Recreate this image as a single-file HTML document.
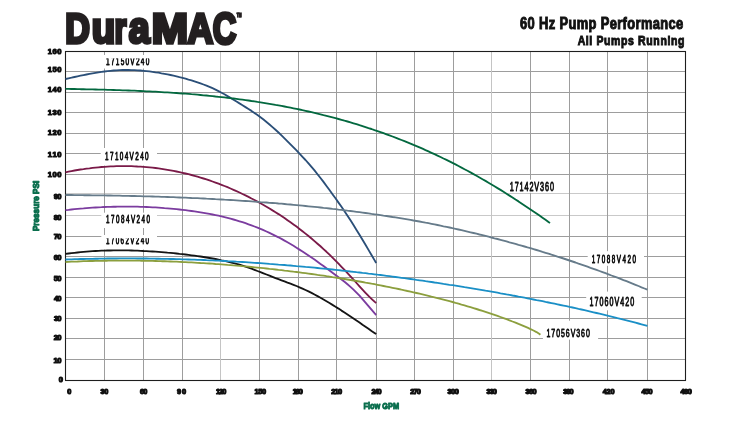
<!DOCTYPE html><html><head><meta charset="utf-8"><title>DuraMAC 60 Hz Pump Performance</title><style>html,body{margin:0;padding:0;background:#fff;}body{width:746px;height:422px;overflow:hidden;}svg{display:block;}text{font-family:"Liberation Sans", "DejaVu Sans", sans-serif;font-kerning:none;}</style></head><body>
<svg width="746" height="422" viewBox="0 0 746 422">
<rect width="746" height="422" fill="#fff"/>
<g stroke-width="1"><line x1="66" y1="71.5" x2="685" y2="71.5" stroke="#9d9d9d"/><line x1="66" y1="92.5" x2="685" y2="92.5" stroke="#9d9d9d"/><line x1="66" y1="112.5" x2="685" y2="112.5" stroke="#9d9d9d"/><line x1="66" y1="133.5" x2="685" y2="133.5" stroke="#9d9d9d"/><line x1="66" y1="153.5" x2="685" y2="153.5" stroke="#9d9d9d"/><line x1="66" y1="174.5" x2="685" y2="174.5" stroke="#9d9d9d"/><line x1="66" y1="193.5" x2="685" y2="193.5" stroke="#c9c9c9"/><line x1="66" y1="215.5" x2="685" y2="215.5" stroke="#c9c9c9"/><line x1="66" y1="236.5" x2="685" y2="236.5" stroke="#9d9d9d"/><line x1="66" y1="256.5" x2="685" y2="256.5" stroke="#9d9d9d"/><line x1="66" y1="277.5" x2="685" y2="277.5" stroke="#9d9d9d"/><line x1="66" y1="297.5" x2="685" y2="297.5" stroke="#9d9d9d"/><line x1="66" y1="318.5" x2="685" y2="318.5" stroke="#9d9d9d"/><line x1="66" y1="338.5" x2="685" y2="338.5" stroke="#9d9d9d"/><line x1="66" y1="359.5" x2="685" y2="359.5" stroke="#9d9d9d"/><line x1="104.5" y1="52" x2="104.5" y2="380" stroke="#9d9d9d"/><line x1="143.5" y1="52" x2="143.5" y2="380" stroke="#9d9d9d"/><line x1="182.5" y1="52" x2="182.5" y2="380" stroke="#9d9d9d"/><line x1="220.5" y1="52" x2="220.5" y2="380" stroke="#c4c4c4"/><line x1="259.5" y1="52" x2="259.5" y2="380" stroke="#9d9d9d"/><line x1="298.5" y1="52" x2="298.5" y2="380" stroke="#9d9d9d"/><line x1="336.5" y1="52" x2="336.5" y2="380" stroke="#9d9d9d"/><line x1="376.5" y1="52" x2="376.5" y2="380" stroke="#9d9d9d"/><line x1="414.5" y1="52" x2="414.5" y2="380" stroke="#9d9d9d"/><line x1="453.5" y1="52" x2="453.5" y2="380" stroke="#9d9d9d"/><line x1="491.5" y1="52" x2="491.5" y2="380" stroke="#c4c4c4"/><line x1="530.5" y1="52" x2="530.5" y2="380" stroke="#9d9d9d"/><line x1="569.5" y1="52" x2="569.5" y2="380" stroke="#9d9d9d"/><line x1="607.5" y1="52" x2="607.5" y2="380" stroke="#9d9d9d"/><line x1="647.5" y1="52" x2="647.5" y2="380" stroke="#9d9d9d"/></g>
<rect x="100.5" y="55.0" width="56.5" height="13.5" fill="#fff"/>
<rect x="100.7" y="148.0" width="56.3" height="17.5" fill="#fff"/>
<rect x="101.3" y="212.7" width="55.7" height="15.3" fill="#fff"/>
<rect x="101.3" y="235.0" width="55.7" height="14.5" fill="#fff"/>
<rect x="505.5" y="179.7" width="53.5" height="13.1" fill="#fff"/>
<rect x="587.7" y="251.2" width="56.3" height="14.6" fill="#fff"/>
<rect x="586.2" y="291.6" width="55.5" height="18.7" fill="#fff"/>
<rect x="542.9" y="320.7" width="55.2" height="18.9" fill="#fff"/>
<clipPath id="c0"><rect x="103.3" y="58.4" width="49.0" height="9.4"/></clipPath>
<g clip-path="url(#c0)">
<text transform="translate(106.06,64.72) scale(0.6000,1)" x="0.00 8.10 16.20 24.30 32.41 40.51 49.81 57.92 66.02" y="0" font-size="10.88" fill="#111" stroke="#111" stroke-width="0.85" stroke-linejoin="round">17150V240</text>
</g>
<text transform="translate(105.07,159.82) scale(0.6000,1)" x="0.00 8.18 16.37 24.55 32.73 40.92 50.28 58.46 66.64" y="0" font-size="10.60" fill="#111" stroke="#111" stroke-width="0.85" stroke-linejoin="round">17104V240</text>
<text transform="translate(106.08,222.52) scale(0.6000,1)" x="0.00 8.28 16.55 24.83 33.11 41.38 50.82 59.10 67.37" y="0" font-size="10.45" fill="#111" stroke="#111" stroke-width="0.85" stroke-linejoin="round">17084V240</text>
<clipPath id="c3"><rect x="103.3" y="238.3" width="48.7" height="9.2"/></clipPath>
<g clip-path="url(#c3)">
<text transform="translate(106.08,244.42) scale(0.6000,1)" x="0.00 8.07 16.14 24.21 32.27 40.34 49.57 57.64 65.71" y="0" font-size="10.45" fill="#111" stroke="#111" stroke-width="0.85" stroke-linejoin="round">17062V240</text>
</g>
<text transform="translate(509.71,190.62) scale(0.6000,1)" x="0.00 8.21 16.42 24.63 32.84 41.05 50.59 58.80 67.01" y="0" font-size="12.03" fill="#111" stroke="#111" stroke-width="0.85" stroke-linejoin="round">17142V360</text>
<text transform="translate(591.78,262.53) scale(0.6000,1)" x="0.00 8.32 16.64 24.96 33.27 41.59 51.07 59.39 67.71" y="0" font-size="10.45" fill="#111" stroke="#111" stroke-width="0.85" stroke-linejoin="round">17088V420</text>
<text transform="translate(589.51,305.82) scale(0.6000,1)" x="0.00 8.30 16.61 24.91 33.21 41.52 51.14 59.44 67.74" y="0" font-size="11.89" fill="#111" stroke="#111" stroke-width="0.85" stroke-linejoin="round">17060V420</text>
<text transform="translate(546.52,336.82) scale(0.6000,1)" x="0.00 8.05 16.10 24.16 32.21 40.26 49.60 57.65 65.70" y="0" font-size="11.60" fill="#111" stroke="#111" stroke-width="0.85" stroke-linejoin="round">17056V360</text>
<rect x="65.5" y="51.5" width="620" height="329" fill="none" stroke="#1e1e1e" stroke-width="1.1"/>
<path d="M65.5,79.0 L68.5,78.3 L71.5,77.7 L74.5,77.0 L77.5,76.3 L80.5,75.7 L83.5,75.1 L86.5,74.5 L89.5,73.9 L92.5,73.3 L95.5,72.8 L98.5,72.3 L101.5,71.9 L104.5,71.5 L107.5,71.1 L110.5,70.8 L113.5,70.5 L116.5,70.3 L119.5,70.1 L122.5,70.0 L125.5,70.0 L128.5,70.0 L131.5,70.1 L134.5,70.2 L137.5,70.3 L140.5,70.5 L143.5,70.8 L146.5,71.1 L149.5,71.4 L152.5,71.8 L155.5,72.3 L158.5,72.7 L161.5,73.3 L164.5,73.8 L167.5,74.4 L170.5,75.0 L173.5,75.7 L176.5,76.4 L179.5,77.2 L182.5,77.9 L185.5,78.7 L188.5,79.6 L191.5,80.4 L194.5,81.4 L197.5,82.4 L200.5,83.4 L203.5,84.5 L206.5,85.7 L209.5,86.9 L212.5,88.2 L215.5,89.6 L218.5,91.1 L221.5,92.7 L224.5,94.3 L227.5,96.1 L230.5,97.9 L233.5,99.7 L236.5,101.5 L239.5,103.4 L242.5,105.2 L245.5,107.1 L248.5,109.0 L251.5,110.9 L254.5,113.0 L257.5,115.1 L260.5,117.3 L263.5,119.6 L266.5,122.0 L269.5,124.5 L272.5,127.1 L275.5,129.7 L278.5,132.5 L281.5,135.4 L284.5,138.3 L287.5,141.3 L290.5,144.3 L293.5,147.4 L296.5,150.4 L299.5,153.6 L302.5,156.8 L305.5,160.0 L308.5,163.4 L311.5,166.9 L314.5,170.4 L317.5,174.2 L320.5,178.0 L323.5,181.9 L326.5,186.0 L329.5,190.0 L332.5,194.2 L335.5,198.3 L338.5,202.6 L341.5,206.8 L344.5,211.2 L347.5,215.7 L350.5,220.3 L353.5,225.1 L356.5,229.9 L359.5,234.8 L362.5,239.8 L365.5,244.8 L368.5,249.9 L371.5,255.0 L374.5,260.1 L376.2,263.0" fill="none" stroke="#2b4f78" stroke-width="1.85" stroke-linejoin="round"/>
<path d="M65.5,88.9 L68.5,88.9 L71.5,89.0 L74.5,89.0 L77.5,89.1 L80.5,89.2 L83.5,89.2 L86.5,89.3 L89.5,89.3 L92.5,89.4 L95.5,89.5 L98.5,89.6 L101.5,89.6 L104.5,89.7 L107.5,89.8 L110.5,89.9 L113.5,90.0 L116.5,90.1 L119.5,90.2 L122.5,90.3 L125.5,90.4 L128.5,90.5 L131.5,90.6 L134.5,90.7 L137.5,90.9 L140.5,91.0 L143.5,91.1 L146.5,91.3 L149.5,91.4 L152.5,91.6 L155.5,91.7 L158.5,91.9 L161.5,92.1 L164.5,92.3 L167.5,92.4 L170.5,92.6 L173.5,92.8 L176.5,93.0 L179.5,93.3 L182.5,93.5 L185.5,93.7 L188.5,93.9 L191.5,94.2 L194.5,94.4 L197.5,94.7 L200.5,95.0 L203.5,95.3 L206.5,95.5 L209.5,95.8 L212.5,96.1 L215.5,96.5 L218.5,96.8 L221.5,97.1 L224.5,97.4 L227.5,97.8 L230.5,98.2 L233.5,98.5 L236.5,98.9 L239.5,99.3 L242.5,99.7 L245.5,100.1 L248.5,100.5 L251.5,101.0 L254.5,101.4 L257.5,101.9 L260.5,102.3 L263.5,102.8 L266.5,103.3 L269.5,103.8 L272.5,104.3 L275.5,104.9 L278.5,105.4 L281.5,105.9 L284.5,106.5 L287.5,107.1 L290.5,107.7 L293.5,108.3 L296.5,108.9 L299.5,109.5 L302.5,110.2 L305.5,110.8 L308.5,111.5 L311.5,112.2 L314.5,112.9 L317.5,113.6 L320.5,114.3 L323.5,115.1 L326.5,115.8 L329.5,116.6 L332.5,117.4 L335.5,118.2 L338.5,119.0 L341.5,119.8 L344.5,120.7 L347.5,121.5 L350.5,122.4 L353.5,123.3 L356.5,124.2 L359.5,125.2 L362.5,126.1 L365.5,127.1 L368.5,128.1 L371.5,129.0 L374.5,130.1 L377.5,131.1 L380.5,132.1 L383.5,133.2 L386.5,134.3 L389.5,135.4 L392.5,136.5 L395.5,137.7 L398.5,138.8 L401.5,140.0 L404.5,141.2 L407.5,142.4 L410.5,143.6 L413.5,144.9 L416.5,146.1 L419.5,147.4 L422.5,148.7 L425.5,150.1 L428.5,151.4 L431.5,152.8 L434.5,154.2 L437.5,155.6 L440.5,157.0 L443.5,158.5 L446.5,159.9 L449.5,161.4 L452.5,162.9 L455.5,164.4 L458.5,166.0 L461.5,167.6 L464.5,169.2 L467.5,170.8 L470.5,172.4 L473.5,174.1 L476.5,175.8 L479.5,177.5 L482.5,179.2 L485.5,180.9 L488.5,182.7 L491.5,184.5 L494.5,186.3 L497.5,188.1 L500.5,189.9 L503.5,191.8 L506.5,193.7 L509.5,195.6 L512.5,197.5 L515.5,199.5 L518.5,201.4 L521.5,203.4 L524.5,205.4 L527.5,207.4 L530.5,209.4 L533.5,211.5 L536.5,213.5 L539.5,215.6 L542.5,217.7 L545.5,219.8 L548.5,222.0 L550.0,223.0" fill="none" stroke="#03683f" stroke-width="1.85" stroke-linejoin="round"/>
<path d="M65.5,172.3 L68.5,171.7 L71.5,171.1 L74.5,170.5 L77.5,170.0 L80.5,169.5 L83.5,169.1 L86.5,168.6 L89.5,168.3 L92.5,167.9 L95.5,167.6 L98.5,167.3 L101.5,167.0 L104.5,166.8 L107.5,166.6 L110.5,166.4 L113.5,166.3 L116.5,166.2 L119.5,166.1 L122.5,166.1 L125.5,166.1 L128.5,166.1 L131.5,166.2 L134.5,166.3 L137.5,166.5 L140.5,166.6 L143.5,166.8 L146.5,167.1 L149.5,167.4 L152.5,167.7 L155.5,168.0 L158.5,168.4 L161.5,168.8 L164.5,169.3 L167.5,169.8 L170.5,170.3 L173.5,170.9 L176.5,171.5 L179.5,172.1 L182.5,172.8 L185.5,173.5 L188.5,174.2 L191.5,175.0 L194.5,175.8 L197.5,176.7 L200.5,177.6 L203.5,178.5 L206.5,179.4 L209.5,180.4 L212.5,181.5 L215.5,182.6 L218.5,183.7 L221.5,184.8 L224.5,186.0 L227.5,187.2 L230.5,188.5 L233.5,189.8 L236.5,191.2 L239.5,192.5 L242.5,194.0 L245.5,195.4 L248.5,196.9 L251.5,198.5 L254.5,200.0 L257.5,201.6 L260.5,203.3 L263.5,205.0 L266.5,206.7 L269.5,208.5 L272.5,210.4 L275.5,212.2 L278.5,214.1 L281.5,216.1 L284.5,218.1 L287.5,220.2 L290.5,222.3 L293.5,224.4 L296.5,226.6 L299.5,228.9 L302.5,231.2 L305.5,233.6 L308.5,236.0 L311.5,238.5 L314.5,241.1 L317.5,243.7 L320.5,246.3 L323.5,249.1 L326.5,251.8 L329.5,254.7 L332.5,257.6 L335.5,260.6 L338.5,263.7 L341.5,266.8 L344.5,269.9 L347.5,273.1 L350.5,276.4 L353.5,279.7 L356.5,283.0 L359.5,286.3 L362.5,289.6 L365.5,292.8 L368.5,295.9 L371.5,298.8 L374.5,301.6 L376.2,303.0" fill="none" stroke="#7a1a48" stroke-width="1.85" stroke-linejoin="round"/>
<path d="M65.5,195.0 L68.5,195.0 L71.5,195.0 L74.5,195.1 L77.5,195.1 L80.5,195.1 L83.5,195.2 L86.5,195.2 L89.5,195.2 L92.5,195.3 L95.5,195.3 L98.5,195.3 L101.5,195.4 L104.5,195.4 L107.5,195.5 L110.5,195.5 L113.5,195.6 L116.5,195.6 L119.5,195.7 L122.5,195.8 L125.5,195.8 L128.5,195.9 L131.5,196.0 L134.5,196.0 L137.5,196.1 L140.5,196.2 L143.5,196.3 L146.5,196.4 L149.5,196.4 L152.5,196.5 L155.5,196.6 L158.5,196.7 L161.5,196.8 L164.5,196.9 L167.5,197.0 L170.5,197.1 L173.5,197.2 L176.5,197.4 L179.5,197.5 L182.5,197.6 L185.5,197.7 L188.5,197.8 L191.5,198.0 L194.5,198.1 L197.5,198.2 L200.5,198.4 L203.5,198.5 L206.5,198.7 L209.5,198.8 L212.5,199.0 L215.5,199.2 L218.5,199.3 L221.5,199.5 L224.5,199.7 L227.5,199.8 L230.5,200.0 L233.5,200.2 L236.5,200.4 L239.5,200.6 L242.5,200.8 L245.5,201.0 L248.5,201.2 L251.5,201.4 L254.5,201.6 L257.5,201.8 L260.5,202.1 L263.5,202.3 L266.5,202.5 L269.5,202.8 L272.5,203.0 L275.5,203.2 L278.5,203.5 L281.5,203.7 L284.5,204.0 L287.5,204.3 L290.5,204.5 L293.5,204.8 L296.5,205.1 L299.5,205.4 L302.5,205.7 L305.5,206.0 L308.5,206.3 L311.5,206.6 L314.5,206.9 L317.5,207.2 L320.5,207.5 L323.5,207.9 L326.5,208.2 L329.5,208.5 L332.5,208.9 L335.5,209.2 L338.5,209.6 L341.5,209.9 L344.5,210.3 L347.5,210.7 L350.5,211.0 L353.5,211.4 L356.5,211.8 L359.5,212.2 L362.5,212.6 L365.5,213.0 L368.5,213.4 L371.5,213.9 L374.5,214.3 L377.5,214.7 L380.5,215.1 L383.5,215.6 L386.5,216.0 L389.5,216.5 L392.5,217.0 L395.5,217.4 L398.5,217.9 L401.5,218.4 L404.5,218.9 L407.5,219.4 L410.5,219.9 L413.5,220.5 L416.5,221.0 L419.5,221.5 L422.5,222.1 L425.5,222.7 L428.5,223.2 L431.5,223.8 L434.5,224.4 L437.5,225.0 L440.5,225.6 L443.5,226.3 L446.5,226.9 L449.5,227.5 L452.5,228.2 L455.5,228.8 L458.5,229.5 L461.5,230.2 L464.5,230.9 L467.5,231.6 L470.5,232.3 L473.5,233.0 L476.5,233.7 L479.5,234.5 L482.5,235.2 L485.5,235.9 L488.5,236.7 L491.5,237.5 L494.5,238.3 L497.5,239.0 L500.5,239.8 L503.5,240.6 L506.5,241.4 L509.5,242.3 L512.5,243.1 L515.5,243.9 L518.5,244.8 L521.5,245.6 L524.5,246.5 L527.5,247.4 L530.5,248.2 L533.5,249.1 L536.5,250.0 L539.5,250.9 L542.5,251.9 L545.5,252.8 L548.5,253.7 L551.5,254.7 L554.5,255.6 L557.5,256.6 L560.5,257.5 L563.5,258.5 L566.5,259.5 L569.5,260.5 L572.5,261.5 L575.5,262.5 L578.5,263.6 L581.5,264.6 L584.5,265.6 L587.5,266.7 L590.5,267.8 L593.5,268.8 L596.5,269.9 L599.5,271.0 L602.5,272.1 L605.5,273.2 L608.5,274.3 L611.5,275.5 L614.5,276.6 L617.5,277.7 L620.5,278.9 L623.5,280.1 L626.5,281.2 L629.5,282.4 L632.5,283.6 L635.5,284.8 L638.5,286.0 L641.5,287.3 L644.5,288.5 L647.4,289.7" fill="none" stroke="#667b8a" stroke-width="1.85" stroke-linejoin="round"/>
<path d="M65.5,210.2 L68.5,209.9 L71.5,209.5 L74.5,209.2 L77.5,208.9 L80.5,208.6 L83.5,208.4 L86.5,208.1 L89.5,207.9 L92.5,207.7 L95.5,207.5 L98.5,207.3 L101.5,207.2 L104.5,207.0 L107.5,206.9 L110.5,206.8 L113.5,206.7 L116.5,206.7 L119.5,206.6 L122.5,206.6 L125.5,206.6 L128.5,206.6 L131.5,206.6 L134.5,206.6 L137.5,206.7 L140.5,206.8 L143.5,206.9 L146.5,207.0 L149.5,207.1 L152.5,207.3 L155.5,207.4 L158.5,207.6 L161.5,207.8 L164.5,208.1 L167.5,208.3 L170.5,208.6 L173.5,208.9 L176.5,209.2 L179.5,209.5 L182.5,209.8 L185.5,210.2 L188.5,210.6 L191.5,211.0 L194.5,211.4 L197.5,211.8 L200.5,212.3 L203.5,212.8 L206.5,213.3 L209.5,213.9 L212.5,214.5 L215.5,215.1 L218.5,215.7 L221.5,216.4 L224.5,217.1 L227.5,217.9 L230.5,218.7 L233.5,219.5 L236.5,220.4 L239.5,221.3 L242.5,222.2 L245.5,223.2 L248.5,224.3 L251.5,225.4 L254.5,226.5 L257.5,227.7 L260.5,228.9 L263.5,230.2 L266.5,231.5 L269.5,232.9 L272.5,234.3 L275.5,235.8 L278.5,237.3 L281.5,238.9 L284.5,240.6 L287.5,242.3 L290.5,244.0 L293.5,245.8 L296.5,247.7 L299.5,249.6 L302.5,251.5 L305.5,253.5 L308.5,255.5 L311.5,257.6 L314.5,259.6 L317.5,261.8 L320.5,263.9 L323.5,266.1 L326.5,268.2 L329.5,270.4 L332.5,272.7 L335.5,274.9 L338.5,277.2 L341.5,279.5 L344.5,281.8 L347.5,284.3 L350.5,286.9 L353.5,289.6 L356.5,292.6 L359.5,295.7 L362.5,299.1 L365.5,302.6 L368.5,306.2 L371.5,309.7 L374.5,313.2 L376.2,315.0" fill="none" stroke="#7b3c9f" stroke-width="1.85" stroke-linejoin="round"/>
<path d="M65.5,253.9 L68.5,253.5 L71.5,253.1 L74.5,252.8 L77.5,252.5 L80.5,252.2 L83.5,251.9 L86.5,251.6 L89.5,251.4 L92.5,251.2 L95.5,251.0 L98.5,250.9 L101.5,250.7 L104.5,250.6 L107.5,250.5 L110.5,250.5 L113.5,250.4 L116.5,250.4 L119.5,250.4 L122.5,250.4 L125.5,250.4 L128.5,250.4 L131.5,250.5 L134.5,250.6 L137.5,250.7 L140.5,250.8 L143.5,251.0 L146.5,251.1 L149.5,251.3 L152.5,251.5 L155.5,251.7 L158.5,251.9 L161.5,252.1 L164.5,252.4 L167.5,252.7 L170.5,252.9 L173.5,253.2 L176.5,253.5 L179.5,253.9 L182.5,254.2 L185.5,254.5 L188.5,254.9 L191.5,255.3 L194.5,255.7 L197.5,256.1 L200.5,256.5 L203.5,257.0 L206.5,257.5 L209.5,258.0 L212.5,258.5 L215.5,259.0 L218.5,259.6 L221.5,260.3 L224.5,260.9 L227.5,261.6 L230.5,262.3 L233.5,263.1 L236.5,263.9 L239.5,264.7 L242.5,265.6 L245.5,266.6 L248.5,267.6 L251.5,268.7 L254.5,269.8 L257.5,271.0 L260.5,272.1 L263.5,273.3 L266.5,274.5 L269.5,275.7 L272.5,276.9 L275.5,278.1 L278.5,279.2 L281.5,280.3 L284.5,281.4 L287.5,282.6 L290.5,283.7 L293.5,284.8 L296.5,286.0 L299.5,287.3 L302.5,288.6 L305.5,290.0 L308.5,291.4 L311.5,292.9 L314.5,294.5 L317.5,296.1 L320.5,297.8 L323.5,299.5 L326.5,301.2 L329.5,303.0 L332.5,304.9 L335.5,306.7 L338.5,308.6 L341.5,310.6 L344.5,312.5 L347.5,314.5 L350.5,316.5 L353.5,318.5 L356.5,320.6 L359.5,322.6 L362.5,324.7 L365.5,326.7 L368.5,328.8 L371.5,330.9 L374.5,332.9 L376.2,334.1" fill="none" stroke="#141414" stroke-width="1.85" stroke-linejoin="round"/>
<path d="M65.5,259.5 L68.5,259.4 L71.5,259.3 L74.5,259.2 L77.5,259.1 L80.5,259.0 L83.5,259.0 L86.5,258.9 L89.5,258.8 L92.5,258.8 L95.5,258.7 L98.5,258.7 L101.5,258.6 L104.5,258.6 L107.5,258.5 L110.5,258.5 L113.5,258.5 L116.5,258.5 L119.5,258.4 L122.5,258.4 L125.5,258.4 L128.5,258.4 L131.5,258.4 L134.5,258.4 L137.5,258.5 L140.5,258.5 L143.5,258.5 L146.5,258.5 L149.5,258.6 L152.5,258.6 L155.5,258.7 L158.5,258.7 L161.5,258.8 L164.5,258.8 L167.5,258.9 L170.5,259.0 L173.5,259.0 L176.5,259.1 L179.5,259.2 L182.5,259.3 L185.5,259.4 L188.5,259.5 L191.5,259.6 L194.5,259.7 L197.5,259.8 L200.5,259.9 L203.5,260.0 L206.5,260.2 L209.5,260.3 L212.5,260.4 L215.5,260.6 L218.5,260.7 L221.5,260.9 L224.5,261.0 L227.5,261.2 L230.5,261.3 L233.5,261.5 L236.5,261.7 L239.5,261.8 L242.5,262.0 L245.5,262.2 L248.5,262.4 L251.5,262.6 L254.5,262.8 L257.5,263.0 L260.5,263.2 L263.5,263.4 L266.5,263.6 L269.5,263.9 L272.5,264.1 L275.5,264.3 L278.5,264.6 L281.5,264.8 L284.5,265.0 L287.5,265.3 L290.5,265.5 L293.5,265.8 L296.5,266.1 L299.5,266.3 L302.5,266.6 L305.5,266.9 L308.5,267.1 L311.5,267.4 L314.5,267.7 L317.5,268.0 L320.5,268.3 L323.5,268.6 L326.5,268.9 L329.5,269.2 L332.5,269.5 L335.5,269.8 L338.5,270.1 L341.5,270.5 L344.5,270.8 L347.5,271.1 L350.5,271.5 L353.5,271.8 L356.5,272.2 L359.5,272.5 L362.5,272.9 L365.5,273.2 L368.5,273.6 L371.5,273.9 L374.5,274.3 L377.5,274.7 L380.5,275.0 L383.5,275.4 L386.5,275.8 L389.5,276.2 L392.5,276.6 L395.5,277.0 L398.5,277.4 L401.5,277.8 L404.5,278.2 L407.5,278.6 L410.5,279.0 L413.5,279.4 L416.5,279.9 L419.5,280.3 L422.5,280.7 L425.5,281.2 L428.5,281.6 L431.5,282.0 L434.5,282.5 L437.5,282.9 L440.5,283.4 L443.5,283.9 L446.5,284.3 L449.5,284.8 L452.5,285.2 L455.5,285.7 L458.5,286.2 L461.5,286.7 L464.5,287.2 L467.5,287.6 L470.5,288.1 L473.5,288.6 L476.5,289.1 L479.5,289.6 L482.5,290.1 L485.5,290.7 L488.5,291.2 L491.5,291.7 L494.5,292.2 L497.5,292.7 L500.5,293.3 L503.5,293.8 L506.5,294.4 L509.5,294.9 L512.5,295.5 L515.5,296.0 L518.5,296.6 L521.5,297.1 L524.5,297.7 L527.5,298.3 L530.5,298.9 L533.5,299.5 L536.5,300.1 L539.5,300.6 L542.5,301.2 L545.5,301.9 L548.5,302.5 L551.5,303.1 L554.5,303.7 L557.5,304.3 L560.5,305.0 L563.5,305.6 L566.5,306.2 L569.5,306.9 L572.5,307.5 L575.5,308.2 L578.5,308.9 L581.5,309.5 L584.5,310.2 L587.5,310.9 L590.5,311.6 L593.5,312.3 L596.5,313.0 L599.5,313.7 L602.5,314.4 L605.5,315.1 L608.5,315.9 L611.5,316.6 L614.5,317.3 L617.5,318.1 L620.5,318.8 L623.5,319.6 L626.5,320.3 L629.5,321.1 L632.5,321.9 L635.5,322.7 L638.5,323.5 L641.5,324.3 L644.5,325.1 L647.4,325.9" fill="none" stroke="#1a8fc6" stroke-width="1.85" stroke-linejoin="round"/>
<path d="M65.5,262.0 L68.5,261.9 L71.5,261.7 L74.5,261.6 L77.5,261.5 L80.5,261.3 L83.5,261.2 L86.5,261.1 L89.5,261.0 L92.5,261.0 L95.5,260.9 L98.5,260.8 L101.5,260.8 L104.5,260.7 L107.5,260.7 L110.5,260.6 L113.5,260.6 L116.5,260.6 L119.5,260.6 L122.5,260.6 L125.5,260.6 L128.5,260.6 L131.5,260.6 L134.5,260.6 L137.5,260.6 L140.5,260.7 L143.5,260.7 L146.5,260.8 L149.5,260.8 L152.5,260.9 L155.5,261.0 L158.5,261.1 L161.5,261.2 L164.5,261.2 L167.5,261.4 L170.5,261.5 L173.5,261.6 L176.5,261.7 L179.5,261.8 L182.5,262.0 L185.5,262.1 L188.5,262.3 L191.5,262.4 L194.5,262.6 L197.5,262.8 L200.5,263.0 L203.5,263.1 L206.5,263.3 L209.5,263.5 L212.5,263.7 L215.5,264.0 L218.5,264.2 L221.5,264.4 L224.5,264.6 L227.5,264.9 L230.5,265.1 L233.5,265.4 L236.5,265.6 L239.5,265.9 L242.5,266.2 L245.5,266.4 L248.5,266.7 L251.5,267.0 L254.5,267.3 L257.5,267.6 L260.5,267.9 L263.5,268.2 L266.5,268.5 L269.5,268.9 L272.5,269.2 L275.5,269.5 L278.5,269.9 L281.5,270.2 L284.5,270.6 L287.5,270.9 L290.5,271.3 L293.5,271.7 L296.5,272.0 L299.5,272.4 L302.5,272.8 L305.5,273.2 L308.5,273.6 L311.5,274.0 L314.5,274.4 L317.5,274.9 L320.5,275.3 L323.5,275.7 L326.5,276.2 L329.5,276.6 L332.5,277.1 L335.5,277.5 L338.5,278.0 L341.5,278.5 L344.5,279.0 L347.5,279.5 L350.5,280.0 L353.5,280.5 L356.5,281.0 L359.5,281.5 L362.5,282.0 L365.5,282.6 L368.5,283.1 L371.5,283.7 L374.5,284.2 L377.5,284.8 L380.5,285.4 L383.5,286.0 L386.5,286.6 L389.5,287.2 L392.5,287.8 L395.5,288.4 L398.5,289.0 L401.5,289.7 L404.5,290.3 L407.5,291.0 L410.5,291.6 L413.5,292.3 L416.5,293.0 L419.5,293.7 L422.5,294.4 L425.5,295.1 L428.5,295.8 L431.5,296.6 L434.5,297.3 L437.5,298.1 L440.5,298.8 L443.5,299.6 L446.5,300.4 L449.5,301.2 L452.5,302.0 L455.5,302.9 L458.5,303.7 L461.5,304.6 L464.5,305.4 L467.5,306.3 L470.5,307.2 L473.5,308.1 L476.5,309.0 L479.5,310.0 L482.5,310.9 L485.5,311.9 L488.5,312.9 L491.5,313.9 L494.5,314.9 L497.5,315.9 L500.5,317.0 L503.5,318.1 L506.5,319.2 L509.5,320.3 L512.5,321.5 L515.5,322.6 L518.5,323.9 L521.5,325.1 L524.5,326.4 L527.5,327.7 L530.5,329.1 L533.5,330.5 L536.5,332.1 L539.5,334.1 L540.4,334.8" fill="none" stroke="#8c9f3e" stroke-width="1.85" stroke-linejoin="round"/>
<text transform="translate(47.67,54.25) scale(1.0000,1)" x="0.00 4.73 9.47" y="0" font-size="7.59" font-weight="bold" fill="#111" stroke="#111" stroke-width="1.10" stroke-linejoin="round">160</text>
<text transform="translate(47.67,72.05) scale(1.0000,1)" x="0.00 4.73 9.47" y="0" font-size="7.59" font-weight="bold" fill="#111" stroke="#111" stroke-width="1.10" stroke-linejoin="round">150</text>
<text transform="translate(47.67,92.35) scale(1.0000,1)" x="0.00 4.73 9.47" y="0" font-size="7.59" font-weight="bold" fill="#111" stroke="#111" stroke-width="1.10" stroke-linejoin="round">140</text>
<text transform="translate(47.67,114.95) scale(1.0000,1)" x="0.00 4.73 9.47" y="0" font-size="7.59" font-weight="bold" fill="#111" stroke="#111" stroke-width="1.10" stroke-linejoin="round">130</text>
<text transform="translate(47.67,135.35) scale(1.0000,1)" x="0.00 4.73 9.47" y="0" font-size="7.59" font-weight="bold" fill="#111" stroke="#111" stroke-width="1.10" stroke-linejoin="round">120</text>
<text transform="translate(47.67,157.05) scale(1.0000,1)" x="0.00 4.73 9.47" y="0" font-size="7.59" font-weight="bold" fill="#111" stroke="#111" stroke-width="1.10" stroke-linejoin="round">110</text>
<text transform="translate(47.67,176.95) scale(1.0000,1)" x="0.00 4.73 9.47" y="0" font-size="7.59" font-weight="bold" fill="#111" stroke="#111" stroke-width="1.10" stroke-linejoin="round">100</text>
<text transform="translate(53.79,199.15) scale(1.0000,1)" x="0.00 3.35" y="0" font-size="7.59" font-weight="bold" fill="#111" stroke="#111" stroke-width="1.10" stroke-linejoin="round">90</text>
<text transform="translate(53.81,220.45) scale(1.0000,1)" x="0.00 3.33" y="0" font-size="7.59" font-weight="bold" fill="#111" stroke="#111" stroke-width="1.10" stroke-linejoin="round">80</text>
<text transform="translate(53.72,238.85) scale(1.0000,1)" x="0.00 3.42" y="0" font-size="7.59" font-weight="bold" fill="#111" stroke="#111" stroke-width="1.10" stroke-linejoin="round">70</text>
<text transform="translate(53.77,259.65) scale(1.0000,1)" x="0.00 3.37" y="0" font-size="7.59" font-weight="bold" fill="#111" stroke="#111" stroke-width="1.10" stroke-linejoin="round">60</text>
<text transform="translate(53.82,280.85) scale(1.0000,1)" x="0.00 3.32" y="0" font-size="7.59" font-weight="bold" fill="#111" stroke="#111" stroke-width="1.10" stroke-linejoin="round">50</text>
<text transform="translate(53.94,300.75) scale(1.0000,1)" x="0.00 3.20" y="0" font-size="7.59" font-weight="bold" fill="#111" stroke="#111" stroke-width="1.10" stroke-linejoin="round">40</text>
<text transform="translate(53.88,320.95) scale(1.0000,1)" x="0.00 3.26" y="0" font-size="7.59" font-weight="bold" fill="#111" stroke="#111" stroke-width="1.10" stroke-linejoin="round">30</text>
<text transform="translate(53.79,339.85) scale(1.0000,1)" x="0.00 3.35" y="0" font-size="7.59" font-weight="bold" fill="#111" stroke="#111" stroke-width="1.10" stroke-linejoin="round">20</text>
<text transform="translate(53.57,362.55) scale(1.0000,1)" x="0.00 3.57" y="0" font-size="7.59" font-weight="bold" fill="#111" stroke="#111" stroke-width="1.10" stroke-linejoin="round">10</text>
<text transform="translate(58.65,381.95) scale(1.0000,1)" x="0.00" y="0" font-size="7.59" font-weight="bold" fill="#111" stroke="#111" stroke-width="1.10" stroke-linejoin="round">0</text>
<text transform="translate(67.26,393.95) scale(1.0000,1)" x="0.00" y="0" font-size="7.30" font-weight="bold" fill="#111" stroke="#111" stroke-width="1.10" stroke-linejoin="round">0</text>
<text transform="translate(100.38,393.95) scale(1.0000,1)" x="0.00 3.91" y="0" font-size="7.30" font-weight="bold" fill="#111" stroke="#111" stroke-width="1.10" stroke-linejoin="round">30</text>
<text transform="translate(139.98,393.95) scale(1.0000,1)" x="0.00 3.30" y="0" font-size="7.30" font-weight="bold" fill="#111" stroke="#111" stroke-width="1.10" stroke-linejoin="round">60</text>
<text transform="translate(177.10,393.95) scale(1.0000,1)" x="0.00 4.79" y="0" font-size="7.30" font-weight="bold" fill="#111" stroke="#111" stroke-width="1.10" stroke-linejoin="round">90</text>
<text transform="translate(215.89,393.95) scale(1.0000,1)" x="0.00 3.15 6.30" y="0" font-size="7.30" font-weight="bold" fill="#111" stroke="#111" stroke-width="1.10" stroke-linejoin="round">120</text>
<text transform="translate(254.49,393.95) scale(1.0000,1)" x="0.00 3.70 7.40" y="0" font-size="7.30" font-weight="bold" fill="#111" stroke="#111" stroke-width="1.10" stroke-linejoin="round">150</text>
<text transform="translate(292.79,393.95) scale(1.0000,1)" x="0.00 3.00 6.00" y="0" font-size="7.30" font-weight="bold" fill="#111" stroke="#111" stroke-width="1.10" stroke-linejoin="round">180</text>
<text transform="translate(331.20,393.95) scale(1.0000,1)" x="0.00 3.40 6.79" y="0" font-size="7.30" font-weight="bold" fill="#111" stroke="#111" stroke-width="1.10" stroke-linejoin="round">210</text>
<text transform="translate(371.40,393.95) scale(1.0000,1)" x="0.00 3.05 6.09" y="0" font-size="7.30" font-weight="bold" fill="#111" stroke="#111" stroke-width="1.10" stroke-linejoin="round">240</text>
<text transform="translate(410.30,393.95) scale(1.0000,1)" x="0.00 3.20 6.39" y="0" font-size="7.30" font-weight="bold" fill="#111" stroke="#111" stroke-width="1.10" stroke-linejoin="round">270</text>
<text transform="translate(447.38,393.95) scale(1.0000,1)" x="0.00 3.65 7.31" y="0" font-size="7.30" font-weight="bold" fill="#111" stroke="#111" stroke-width="1.10" stroke-linejoin="round">300</text>
<text transform="translate(486.58,393.95) scale(1.0000,1)" x="0.00 3.05 6.11" y="0" font-size="7.30" font-weight="bold" fill="#111" stroke="#111" stroke-width="1.10" stroke-linejoin="round">330</text>
<text transform="translate(525.48,393.95) scale(1.0000,1)" x="0.00 3.50 7.01" y="0" font-size="7.30" font-weight="bold" fill="#111" stroke="#111" stroke-width="1.10" stroke-linejoin="round">360</text>
<text transform="translate(563.18,393.95) scale(1.0000,1)" x="0.00 3.20 6.41" y="0" font-size="7.30" font-weight="bold" fill="#111" stroke="#111" stroke-width="1.10" stroke-linejoin="round">390</text>
<text transform="translate(602.64,393.95) scale(1.0000,1)" x="0.00 3.97 7.95" y="0" font-size="7.30" font-weight="bold" fill="#111" stroke="#111" stroke-width="1.10" stroke-linejoin="round">420</text>
<text transform="translate(641.54,393.95) scale(1.0000,1)" x="0.00 3.47 6.95" y="0" font-size="7.30" font-weight="bold" fill="#111" stroke="#111" stroke-width="1.10" stroke-linejoin="round">450</text>
<text transform="translate(680.44,393.95) scale(1.0000,1)" x="0.00 3.62 7.25" y="0" font-size="7.30" font-weight="bold" fill="#111" stroke="#111" stroke-width="1.10" stroke-linejoin="round">480</text>
<text transform="translate(363.41,409.30) scale(0.7986,1)" font-size="9.25" font-weight="bold" fill="#0a6e4d" stroke="#0a6e4d" stroke-width="1.00" stroke-linejoin="round">Flow GPM</text>
<g transform="translate(32.3,231) rotate(-90)"><text transform="translate(-0.11,7.10) scale(0.8646,1)" font-size="9.45" font-weight="bold" fill="#0a6e4d" stroke="#0a6e4d" stroke-width="1.00" stroke-linejoin="round">Pressure PSI</text></g>
<text transform="translate(520.03,28.80) scale(0.8000,1)" x="0.00 9.42 18.85 23.77 35.88 44.39 49.32 60.53 70.84 85.64 95.95 100.87 112.09 121.51 128.24 134.06 144.36 151.09 165.89 175.31 185.62 195.04" y="0" font-size="16.15" font-weight="bold" fill="#111" stroke="#111" stroke-width="1.00" stroke-linejoin="miter">60 Hz Pump Performance</text>
<text transform="translate(577.64,45.10) scale(0.8000,1)" x="0.00 10.25 14.68 19.11 23.53 33.06 41.86 54.30 63.09 71.17 75.59 85.85 94.64 103.43 112.23 116.65 125.45" y="0" font-size="13.11" font-weight="bold" fill="#111" stroke="#111" stroke-width="1.00" stroke-linejoin="miter">All Pumps Running</text>
<text font-weight="bold" fill="#231f20" stroke="#231f20" stroke-width="3.6" stroke-linejoin="miter"><tspan x="65.15" y="43.20" font-size="42.73" textLength="24.64" lengthAdjust="spacingAndGlyphs">D</tspan><tspan x="91.71" y="43.20" font-size="43.34" textLength="23.42" lengthAdjust="spacingAndGlyphs">u</tspan><tspan x="114.47" y="43.20" font-size="42.89" textLength="11.91" lengthAdjust="spacingAndGlyphs">r</tspan><tspan x="128.64" y="43.40" font-size="43.86" textLength="20.97" lengthAdjust="spacingAndGlyphs">a</tspan><tspan x="151.71" y="43.20" font-size="43.02" textLength="36.28" lengthAdjust="spacingAndGlyphs">M</tspan><tspan x="187.50" y="43.20" font-size="43.02" textLength="25.65" lengthAdjust="spacingAndGlyphs">A</tspan><tspan x="212.79" y="43.60" font-size="44.25" textLength="23.58" lengthAdjust="spacingAndGlyphs">C</tspan></text>
<text transform="translate(236.85,17.10) scale(0.6918,1)" font-size="4.80" font-weight="bold" fill="#231f20" stroke="#231f20" stroke-width="1.40" stroke-linejoin="round">TM</text>
</svg></body></html>
